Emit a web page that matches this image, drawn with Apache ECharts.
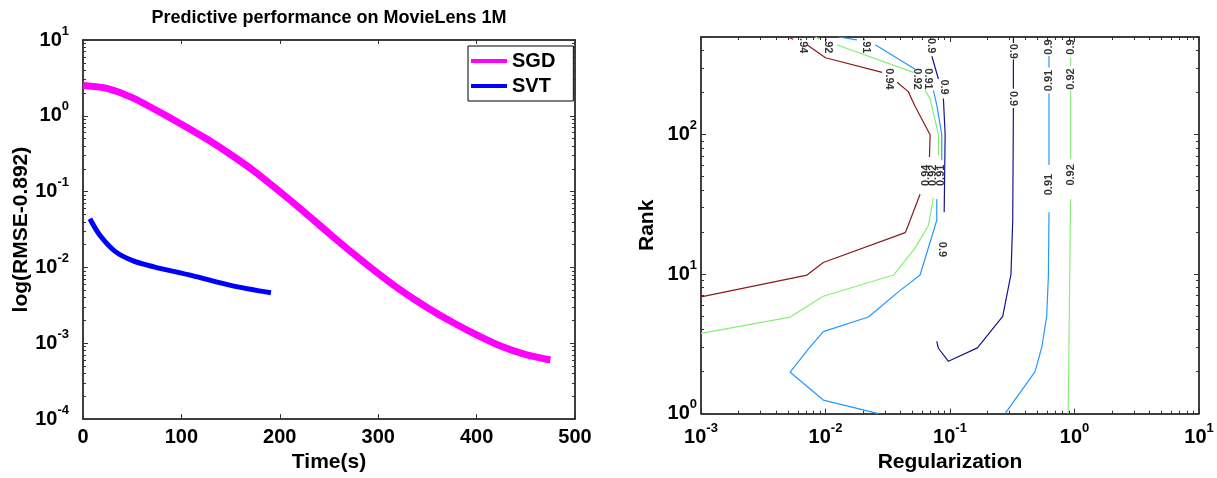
<!DOCTYPE html>
<html>
<head>
<meta charset="utf-8">
<script src="https://cdn.jsdelivr.net/npm/echarts@6/dist/echarts.min.js"></script>
<style>
html, body { margin: 0; padding: 0; background: #fff; }
#main { width: 1217px; height: 478px; }
</style>
</head>
<body>
<div id="main"></div>
<script>
// ---- left panel: log(RMSE-0.892) vs time ----
var sgdTime = [0, 25, 50, 75, 100, 125, 150, 175, 200, 225, 250, 275, 300, 325, 350, 375, 400, 425, 450, 475];
var sgdErr  = [2.51, 2.29, 1.74, 1.175, 0.776, 0.501, 0.309, 0.182, 0.1, 0.0537, 0.0282, 0.0151, 0.00832, 0.00479, 0.00295, 0.00191, 0.00129, 0.000912, 0.000708, 0.000603];
var svtTime = [7, 17, 32.6, 51, 72, 111, 150, 191];
var svtErr  = [0.0439, 0.0268, 0.0163, 0.0122, 0.0102, 0.0078, 0.0058, 0.00463];
var timeTicks = [0, 100, 200, 300, 400, 500];
var errDecades = [-4, -3, -2, -1, 0, 1];

// ---- right panel: contour lines [regularization, rank], split where labels sit ----
var c094 = [
  [[0.001, 6.87], [0.0071, 9.84], [0.0096, 12.1], [0.0437, 19.8], [0.0462, 22.4], [0.0575, 37.3]],
  [[0.0684, 69], [0.0692, 99.5], [0.0525, 159], [0.0462, 203], [0.0376, 237]],
  [[0.0285, 279], [0.01, 355], [0.0071, 440]],
  [[0.0055, 482], [0.005, 500]]
];
var c092 = [
  [[0.001, 3.76], [0.0052, 4.92], [0.0096, 6.94], [0.0352, 9.84], [0.0525, 15.4], [0.0672, 22.4], [0.0736, 35.3]],
  [[0.0807, 71], [0.0807, 100], [0.0692, 181], [0.063, 207]],
  [[0.0508, 279], [0.0123, 440]],
  [[0.0089, 485], [0.0083, 500]],
  [[0.89, 1], [0.93, 34.4]],
  [[0.931, 67.2], [0.931, 207]],
  [[0.931, 310], [0.931, 355]]
];
var c091 = [
  [[0.0266, 1], [0.0096, 1.25], [0.0052, 1.98], [0.0073, 2.91], [0.0096, 3.87], [0.0221, 4.92], [0.0398, 7.64], [0.0575, 9.84], [0.0783, 24.3], [0.0783, 34.4]],
  [[0.0859, 65.5], [0.0859, 100], [0.0783, 163], [0.0736, 207]],
  [[0.0525, 294], [0.0251, 440]],
  [[0.0179, 477], [0.0127, 500]],
  [[0.277, 1], [0.482, 2], [0.546, 2.99], [0.598, 4.98], [0.617, 9.73], [0.624, 27.7]],
  [[0.624, 60.4], [0.624, 197]],
  [[0.624, 302], [0.624, 365]]
];
var c090 = [
  [[0.0715, 364], [0.0807, 250]],
  [[0.0885, 181], [0.0914, 100], [0.0898, 27.7]],
  [[0.323, 500], [0.323, 452]],
  [[0.323, 345], [0.323, 213]],
  [[0.323, 155], [0.319, 24.3], [0.309, 10], [0.265, 4.98], [0.166, 2.96], [0.0971, 2.37], [0.0807, 2.94], [0.0783, 3.29]]
];
// contour labels: reading downward / reading upward
var labelsDown = [
  [0.00656, 433, '.94'], [0.01045, 433, '.92'], [0.0212, 433, '.91'], [0.0703, 433, '0.9'],
  [0.0321, 250, '0.94'], [0.0542, 250, '0.92'], [0.0672, 250, '0.91'], [0.0893, 219, '0.9'],
  [0.323, 395, '0.9'], [0.323, 181, '0.9'], [0.0859, 15, '0.9']
];
var labelsUp = [
  [0.0643, 51, '0.94'], [0.0736, 51, '0.92'], [0.0843, 51, '0.91'],
  [0.624, 43.8, '0.91'], [0.931, 51.4, '0.92'], [0.624, 244, '0.91'], [0.931, 250, '0.92'],
  [0.624, 424, '0.9'], [0.931, 424, '0.9']
];
var regDecades = [-3, -2, -1, 0, 1];
var rankDecades = [0, 1, 2];

var FONT = 'Liberation Sans';

function zip(xs, ys) {
  var out = [];
  for (var i = 0; i < xs.length; i++) out.push([xs[i], ys[i]]);
  return out;
}
function joinSegs(segs) {
  var out = [];
  segs.forEach(function (s, i) {
    if (i > 0) out.push(['-', '-']);
    s.forEach(function (p) { out.push(p); });
  });
  return out;
}
// minor ticks (2..9 per decade), in log10 units
function minors(e0, e1, maxLog) {
  var out = [];
  for (var e = e0; e < e1; e++) {
    for (var k = 2; k <= 9; k++) {
      var v = e + Math.log10(k);
      if (maxLog === undefined || v <= maxLog + 1e-9) out.push(v);
    }
  }
  return out;
}

var rich = {
  b: { fontFamily: FONT, fontSize: 20, fontWeight: 'bold', color: '#000' },
  s: { fontFamily: FONT, fontSize: 13, fontWeight: 'bold', color: '#000', padding: [0, 0, 18, 0] }
};
function expLabel(v) {
  var e = Math.round(Math.log10(v));
  if (Math.abs(Math.log10(v) - e) > 1e-6) return '';
  return '{b|10}{s|' + e + '}';
}
var axisLineStyle = { color: '#000', width: 1.5 };
var tickLineStyle = { color: '#333', width: 1 };

function decoAxis(grid, pos, min, max, vals, len, line) {
  return {
    type: 'value', gridIndex: grid, position: pos, min: min, max: max,
    axisLine: { show: line, onZero: false, lineStyle: axisLineStyle },
    axisTick: { show: true, inside: true, length: len, customValues: vals, lineStyle: tickLineStyle },
    axisLabel: { show: false }, splitLine: { show: false }
  };
}
var nameStyle = { fontFamily: FONT, fontSize: 21, fontWeight: 'bold', color: '#000' };
var rankMaxLog = Math.log10(500);
var labelStyle = { fontFamily: FONT, fontSize: 11, fontWeight: 'bold', color: '#000' };

var myChart = echarts.init(document.getElementById('main'));
var option = {
  animation: false,
  backgroundColor: '#fff',
  graphic: [{
    type: 'text', x: 329, y: 18,
    style: { text: 'Predictive performance on MovieLens 1M', fontFamily: FONT, fontSize: 18, fontWeight: 'bold', fill: '#000', align: 'center', verticalAlign: 'middle' }
  }],
  legend: {
    data: ['SGD', 'SVT'], left: 468, top: 46, orient: 'vertical', icon: 'rect',
    itemWidth: 36, itemHeight: 4, itemGap: 5, padding: [5, 18, 5, 3],
    borderColor: '#000', borderWidth: 1, backgroundColor: '#fff',
    textStyle: { fontFamily: FONT, fontSize: 20, fontWeight: 'bold', color: '#000', lineHeight: 20 }
  },
  grid: [
    { left: 83, top: 40, width: 492, height: 389 },
    { left: 701, top: 37, width: 498, height: 386 }
  ],
  xAxis: [
    { type: 'value', gridIndex: 0, position: 'bottom', min: 0, max: 500, interval: 100,
      name: 'Time(s)', nameLocation: 'middle', nameGap: 26, nameTextStyle: nameStyle,
      axisLine: { onZero: false, lineStyle: axisLineStyle },
      axisTick: { inside: true, length: 5, customValues: timeTicks, lineStyle: tickLineStyle },
      axisLabel: { customValues: timeTicks, margin: 8, fontFamily: FONT, fontSize: 20, fontWeight: 'bold', color: '#000' },
      splitLine: { show: false } },
    decoAxis(0, 'top', 0, 500, timeTicks, 4, true),
    { type: 'log', logBase: 10, gridIndex: 1, position: 'bottom', min: 0.001, max: 10,
      name: 'Regularization', nameLocation: 'middle', nameGap: 31, nameTextStyle: nameStyle,
      axisLine: { onZero: false, lineStyle: axisLineStyle },
      axisTick: { inside: true, length: 5, lineStyle: tickLineStyle },
      axisLabel: { formatter: expLabel, rich: rich, margin: 8 },
      splitLine: { show: false } },
    decoAxis(1, 'bottom', -3, 1, minors(-3, 1), 3, false),
    decoAxis(1, 'top', -3, 1, regDecades, 5, true),
    decoAxis(1, 'top', -3, 1, minors(-3, 1), 3, false)
  ],
  yAxis: [
    { type: 'log', logBase: 10, gridIndex: 0, position: 'left', min: 0.0001, max: 10,
      name: 'log(RMSE-0.892)', nameLocation: 'middle', nameGap: 50, nameTextStyle: nameStyle,
      axisLine: { onZero: false, lineStyle: axisLineStyle },
      axisTick: { inside: true, length: 5, lineStyle: tickLineStyle },
      axisLabel: { formatter: expLabel, rich: rich, margin: 14 },
      splitLine: { show: false } },
    decoAxis(0, 'left', -4, 1, minors(-4, 1), 3, false),
    decoAxis(0, 'right', -4, 1, errDecades, 5, true),
    decoAxis(0, 'right', -4, 1, minors(-4, 1), 3, false),
    { type: 'log', logBase: 10, gridIndex: 1, position: 'left', min: 1, max: 500,
      name: 'Rank', nameLocation: 'middle', nameGap: 43, nameTextStyle: nameStyle,
      axisLine: { onZero: false, lineStyle: axisLineStyle },
      axisTick: { inside: true, length: 5, lineStyle: tickLineStyle },
      axisLabel: { formatter: expLabel, rich: rich, margin: 4 },
      splitLine: { show: false } },
    decoAxis(1, 'left', 0, rankMaxLog, minors(0, 3, rankMaxLog), 3, false),
    decoAxis(1, 'right', 0, rankMaxLog, rankDecades, 5, true),
    decoAxis(1, 'right', 0, rankMaxLog, minors(0, 3, rankMaxLog), 3, false)
  ],
  series: [
    { name: 'SGD', type: 'line', xAxisIndex: 0, yAxisIndex: 0, data: zip(sgdTime, sgdErr),
      smooth: 0.3, symbol: 'none', color: '#ff00ff', lineStyle: { width: 7, color: '#ff00ff' } },
    { name: 'SVT', type: 'line', xAxisIndex: 0, yAxisIndex: 0, data: zip(svtTime, svtErr),
      smooth: 0.3, symbol: 'none', color: '#0000ff', lineStyle: { width: 5, color: '#0000ff' } },
    { type: 'line', xAxisIndex: 2, yAxisIndex: 4, data: joinSegs(c094), symbol: 'none', lineStyle: { width: 1.2, color: '#8b1a1a' } },
    { type: 'line', xAxisIndex: 2, yAxisIndex: 4, data: joinSegs(c092), symbol: 'none', lineStyle: { width: 1.2, color: '#88ee77' } },
    { type: 'line', xAxisIndex: 2, yAxisIndex: 4, data: joinSegs(c091), symbol: 'none', lineStyle: { width: 1.2, color: '#2299ff' } },
    { type: 'line', xAxisIndex: 2, yAxisIndex: 4, data: joinSegs(c090), symbol: 'none', lineStyle: { width: 1.2, color: '#14148c' } },
    { type: 'scatter', xAxisIndex: 2, yAxisIndex: 4, data: labelsDown, symbolSize: 1,
      itemStyle: { color: 'rgba(0,0,0,0)' },
      label: Object.assign({ show: true, position: 'inside', rotate: -90, formatter: function (p) { return p.data[2]; } }, labelStyle) },
    { type: 'scatter', xAxisIndex: 2, yAxisIndex: 4, data: labelsUp, symbolSize: 1,
      itemStyle: { color: 'rgba(0,0,0,0)' },
      label: Object.assign({ show: true, position: 'inside', rotate: 90, formatter: function (p) { return p.data[2]; } }, labelStyle) }
  ]
};
myChart.setOption(option);
</script>
</body>
</html>
